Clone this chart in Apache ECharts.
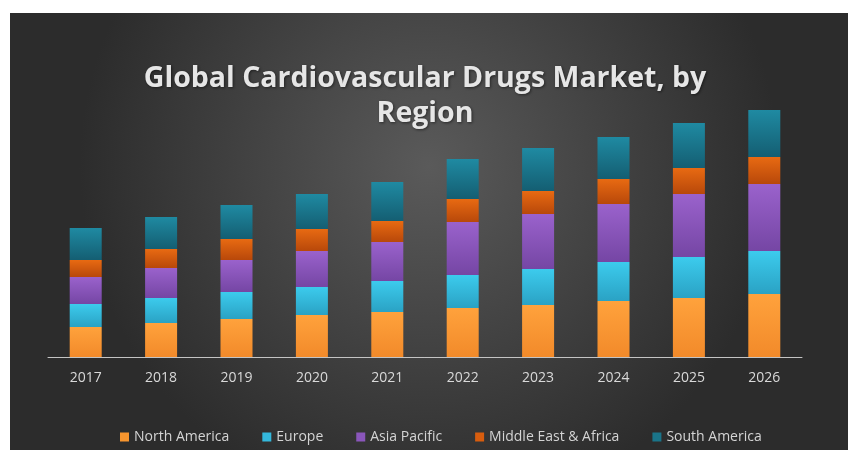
<!DOCTYPE html>
<html>
<head>
<meta charset="utf-8">
<script src="https://cdn.jsdelivr.net/npm/echarts@6/dist/echarts.min.js"></script>
<style>
html,body{margin:0;padding:0;background:#fff;}
#chart{width:850px;height:450px;}
</style>
</head>
<body>
<div id="chart"></div>
<script>
const categories = ['2017','2018','2019','2020','2021','2022','2023','2024','2025','2026'];
const northAmerica = [30, 34, 38, 42, 45, 49, 52, 56, 59, 63];
const europe       = [23, 25, 27, 28, 31, 33, 36, 39, 41, 43];
const asiaPacific  = [27, 30, 32, 36, 39, 53, 55, 58, 63, 67];
const middleEast   = [17, 19, 21, 22, 21, 23, 23, 25, 26, 27];
const southAmerica = [32, 32, 34, 35, 39, 40, 43, 42, 45, 47];
const seriesNames = ['North America','Europe','Asia Pacific','Middle East & Africa','South America'];

function grad(top, bottom){
  return new echarts.graphic.LinearGradient(0,0,0,1,[{offset:0,color:top},{offset:1,color:bottom}]);
}
const colors = [
  grad('#ffa23c','#f28a2a'),
  grad('#3ccbed','#2aa2c4'),
  grad('#9a62cc','#7546a4'),
  grad('#e86a12','#b8480a'),
  grad('#1f8aa2','#145e72')
];
const legendColors = ['#f7952e','#34b8dc','#8a56bb','#d85d0e','#1a7489'];
const dataSets = [northAmerica, europe, asiaPacific, middleEast, southAmerica];

const chart = echarts.init(document.getElementById('chart'), null, {renderer:'canvas'});
chart.setOption({
  backgroundColor:'#ffffff',
  animation:false,
  graphic:[{
    type:'rect', z:-10, silent:true,
    shape:{x:10,y:13,width:838,height:437},
    style:{fill:{type:'radial',x:0.5,y:0.35,r:0.8,colorStops:[{offset:0,color:'#5a5a5a'},{offset:1,color:'#2c2c2c'}]}}
  }],
  title:{
    text:'Global Cardiovascular Drugs Market, by\nRegion',
    left:'center', top:56,
    textStyle:{color:'#e6e6e6',fontSize:28.5,fontWeight:'bold',fontFamily:'Open Sans',lineHeight:35,
      textShadowColor:'rgba(0,0,0,0.5)',textShadowBlur:3,textShadowOffsetX:1,textShadowOffsetY:1}
  },
  legend:{
    bottom:1, left:115,
    itemWidth:9, itemHeight:9, itemGap:33,
    icon:'rect',
    textStyle:{color:'#d4d4d4',fontSize:14,fontFamily:'Open Sans'},
    data:seriesNames.map((n,i)=>({name:n,itemStyle:{color:legendColors[i]}}))
  },
  grid:{left:48,right:48,top:107,bottom:93,containLabel:false},
  xAxis:{
    type:'category', data:categories,
    axisLine:{lineStyle:{color:'#c4c4c4',width:1}},
    axisTick:{show:false},
    axisLabel:{color:'#d9d9d9',fontSize:14,fontFamily:'Open Sans',margin:14}
  },
  yAxis:{type:'value',min:0,max:250,show:false,splitLine:{show:false}},
  series:dataSets.map((d,i)=>({
    name:seriesNames[i], type:'bar', stack:'total', barWidth:32,
    itemStyle:{color:colors[i]},
    data:d
  }))
});
</script>
</body>
</html>
